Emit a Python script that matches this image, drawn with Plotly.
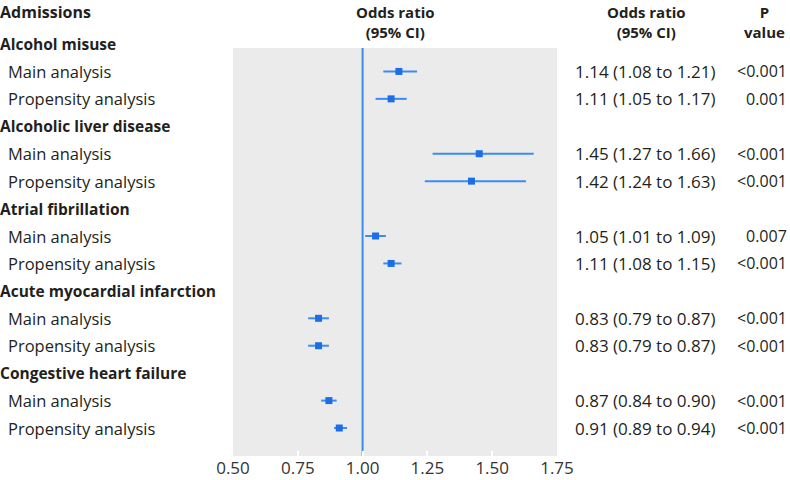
import plotly.graph_objects as go

# ---- data ----
categories = ["Alcohol misuse", "Alcoholic liver disease", "Atrial fibrillation",
              "Acute myocardial infarction", "Congestive heart failure"]
analyses = ["Main analysis", "Propensity analysis"]
or_values = [1.14, 1.11, 1.45, 1.42, 1.05, 1.11, 0.83, 0.83, 0.87, 0.91]
ci_low = [1.08, 1.05, 1.27, 1.24, 1.01, 1.08, 0.79, 0.79, 0.84, 0.89]
ci_high = [1.21, 1.17, 1.66, 1.63, 1.09, 1.15, 0.87, 0.87, 0.90, 0.94]
p_values = ["<0.001", "0.001", "<0.001", "<0.001", "0.007", "<0.001",
            "<0.001", "<0.001", "<0.001", "<0.001"]
x_ticks = [0.50, 0.75, 1.00, 1.25, 1.50, 1.75]
x_tick_labels = ["0.50", "0.75", "1.00", "1.25", "1.50", "1.75"]

# ---- style ----
FONT = "Open Sans, Noto Sans, sans-serif"
TXT = "#231f20"
MARK = "#1b6ee6"
LINE = "#3d8bef"
GREY = "#ebebeb"

# row layout (category rows followed by two analysis rows each)
rows_cat = []
rows_data = []
r = 0
for c in categories:
    rows_cat.append(r)
    r += 1
    for a in analyses:
        rows_data.append(r)
        r += 1

Y_TOP = -1.604
Y_BOT = 15.02
BG_TOP = 0.146

fig = go.Figure()
fig.add_trace(go.Scatter(
    x=or_values, y=rows_data, mode="markers",
    marker=dict(symbol="square", size=7, color=MARK),
    error_x=dict(type="data", symmetric=False,
                 array=[h - v for h, v in zip(ci_high, or_values)],
                 arrayminus=[v - l for l, v in zip(ci_low, or_values)],
                 width=0, thickness=2, color=LINE),
    showlegend=False, hoverinfo="skip", cliponaxis=False))

shapes = [
    dict(type="rect", xref="paper", yref="y", x0=0, x1=1, y0=BG_TOP, y1=Y_BOT,
         fillcolor=GREY, line=dict(width=0), layer="below"),
    dict(type="line", xref="x", yref="y", x0=1.0, x1=1.0, y0=BG_TOP, y1=Y_BOT,
         line=dict(color=LINE, width=2), layer="below"),
]

PLOT_W = 324.0
def px2paper(px):
    return (px - 233.0) / PLOT_W

ann = []
def add(text, x, y, xanchor="left", bold=False, size=15.5):
    ann.append(dict(text=("<b>%s</b>" % text) if bold else text, x=x, y=y,
                    xref="paper", yref="y", xanchor=xanchor, yanchor="middle",
                    showarrow=False, borderpad=0, borderwidth=0,
                    font=dict(family=FONT, size=size, color=TXT)))

# headers
add("Admissions", px2paper(0), -1.17, bold=True, size=16)
add("Odds ratio<br>(95% CI)", 0.5, -0.80, xanchor="center", bold=True, size=15)
add("Odds ratio<br>(95% CI)", px2paper(646), -0.80, xanchor="center", bold=True, size=15)
add("P<br>value", px2paper(764), -0.80, xanchor="center", bold=True, size=15)

for c, rr in zip(categories, rows_cat):
    add(c, px2paper(0), rr, bold=True)
i = 0
for rr in rows_data:
    add(analyses[i % 2], px2paper(8), rr, size=16.5)
    add("%.2f (%.2f to %.2f)" % (or_values[i], ci_low[i], ci_high[i]),
        px2paper(575), rr, size=17)
    add(p_values[i], px2paper(787), rr, xanchor="right", size=16)
    i += 1

fig.update_layout(
    width=790, height=480,
    margin=dict(l=233, r=233, t=0, b=24, pad=0),
    paper_bgcolor="white", plot_bgcolor="white",
    shapes=shapes, annotations=ann,
    font=dict(family=FONT, size=16, color=TXT),
    xaxis=dict(range=[0.5, 1.75], tickvals=x_ticks, ticktext=x_tick_labels,
               ticks="inside", ticklen=5, tickwidth=2, tickcolor="white",
               showgrid=False, zeroline=False, showline=False,
               tickfont=dict(family=FONT, size=17, color="#333333")),
    yaxis=dict(range=[Y_BOT, Y_TOP], showticklabels=False, showgrid=False,
               zeroline=False, showline=False, ticks=""),
)

fig.write_html("out.html", config={"displayModeBar": False},
               post_script="document.body.style.margin='0';")
